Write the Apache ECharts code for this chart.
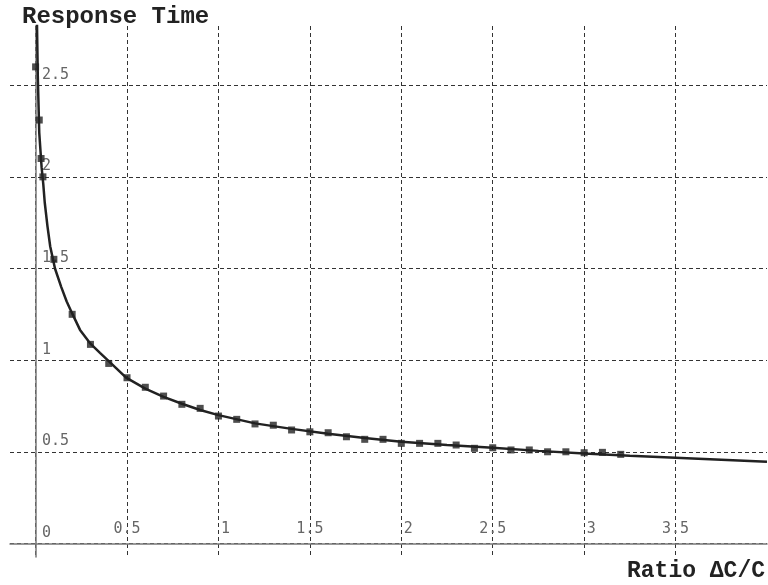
<!DOCTYPE html>
<html>
<head>
<meta charset="utf-8">
<script src="https://cdn.jsdelivr.net/npm/echarts@6/dist/echarts.min.js"></script>
<style>
  html, body { margin: 0; padding: 0; background: #fff; }
  #main { width: 768px; height: 585px; }
</style>
</head>
<body>
<div id="main"></div>
<script>
// fitted curve
var curveX = [0.005, 0.012, 0.02, 0.033, 0.042, 0.05, 0.065, 0.08, 0.106, 0.14, 0.17, 0.2, 0.243, 0.3, 0.352, 0.4, 0.495, 0.6, 0.7, 0.8, 0.9, 1.0, 1.2, 1.4, 1.6, 1.8, 2.0, 2.25, 2.5, 2.75, 3.0, 3.25, 3.5, 3.75, 4.0];
var curveY = [3.0, 2.55, 2.24, 2.05, 1.96, 1.86, 1.73, 1.62, 1.50, 1.40, 1.32, 1.255, 1.165, 1.09, 1.04, 0.995, 0.905, 0.845, 0.80, 0.762, 0.728, 0.70, 0.655, 0.625, 0.598, 0.575, 0.555, 0.537, 0.522, 0.505, 0.491, 0.479, 0.468, 0.457, 0.446];

// measured points
var pointX = [0, 0.02, 0.03, 0.04, 0.1, 0.2, 0.3, 0.4, 0.5, 0.6, 0.7, 0.8, 0.9, 1.0, 1.1, 1.2, 1.3, 1.4, 1.5, 1.6, 1.7, 1.8, 1.9, 2.0, 2.1, 2.2, 2.3, 2.4, 2.5, 2.6, 2.7, 2.8, 2.9, 3.0, 3.1, 3.2];
var pointY = [2.60, 2.31, 2.10, 2.00, 1.55, 1.25, 1.086, 0.982, 0.904, 0.852, 0.804, 0.759, 0.737, 0.695, 0.677, 0.652, 0.645, 0.619, 0.609, 0.604, 0.582, 0.568, 0.568, 0.546, 0.546, 0.546, 0.537, 0.519, 0.522, 0.51, 0.51, 0.50, 0.50, 0.495, 0.497, 0.486];

var myChart = echarts.init(document.getElementById('main'));

function pairs(xs, ys) {
    return xs.map(function (x, i) { return [x, ys[i]]; });
}

function isHalf(v) {
    return Math.abs(v * 2 - Math.round(v * 2)) < 1e-6;
}

var labelFont = 'DejaVu Sans Mono';
var gridLine = { show: true, showMinLine: false, showMaxLine: false, lineStyle: { color: '#333', type: [4, 3], width: 1 } };

option = {
    animation: false,
    title: [
        {
            text: 'Response Time',
            left: 22, top: 5, padding: 0,
            textStyle: { fontFamily: 'Liberation Mono', fontWeight: 'bold', fontSize: 24, color: '#222' }
        },
        {
            text: 'Ratio ΔC/C',
            right: 3, bottom: 2, padding: 0,
            textStyle: { fontFamily: 'Liberation Mono', fontWeight: 'bold', fontSize: 23, color: '#222' }
        }
    ],
    grid: { left: 10, right: 1, top: 26, bottom: 28 },
    xAxis: {
        type: 'value',
        min: -0.14, max: 4.0,
        splitNumber: 8, minInterval: 0.5, maxInterval: 0.5,
        axisLine: { onZero: true, lineStyle: { color: '#777', width: 1.5 } },
        axisTick: { show: false },
        splitLine: gridLine,
        axisLabel: {
            inside: true, margin: 20,
            showMinLabel: false, showMaxLabel: false,
            align: 'center', verticalAlign: 'bottom',
            fontFamily: labelFont, fontSize: 15, color: '#666',
            formatter: function (v) {
                if (v <= 0 || !isHalf(v) || v >= 4) return '';
                if (Number.isInteger(v)) return '{i|' + v + '}';
                return String(v);
            },
            rich: { i: { fontFamily: labelFont, fontSize: 15, color: '#666', padding: [0, 0, 0, 14] } }
        }
    },
    yAxis: {
        type: 'value',
        min: -0.074, max: 2.823,
        splitNumber: 6, minInterval: 0.5, maxInterval: 0.5,
        axisLine: { onZero: true, lineStyle: { color: '#777', width: 1.5 } },
        axisTick: { show: false },
        splitLine: gridLine,
        axisLabel: {
            inside: true, margin: 32,
            showMinLabel: false, showMaxLabel: false,
            align: 'left', verticalAlign: 'bottom', padding: [0, 0, 3, 0],
            fontFamily: labelFont, fontSize: 15, color: '#666',
            formatter: function (v) {
                if (v < 0 || !isHalf(v) || v > 2.6) return '';
                return String(v);
            }
        }
    },
    series: [
        {
            name: 'curve',
            type: 'line',
            data: pairs(curveX, curveY),
            showSymbol: false,
            smooth: false,
            clip: true,
            lineStyle: { color: '#222', width: 2.5 },
            z: 3
        },
        {
            name: 'points',
            type: 'scatter',
            data: pairs(pointX, pointY),
            symbol: 'rect',
            symbolSize: 7,
            itemStyle: { color: '#222' },
            z: 4
        }
    ]
};

myChart.setOption(option);
</script>
</body>
</html>
